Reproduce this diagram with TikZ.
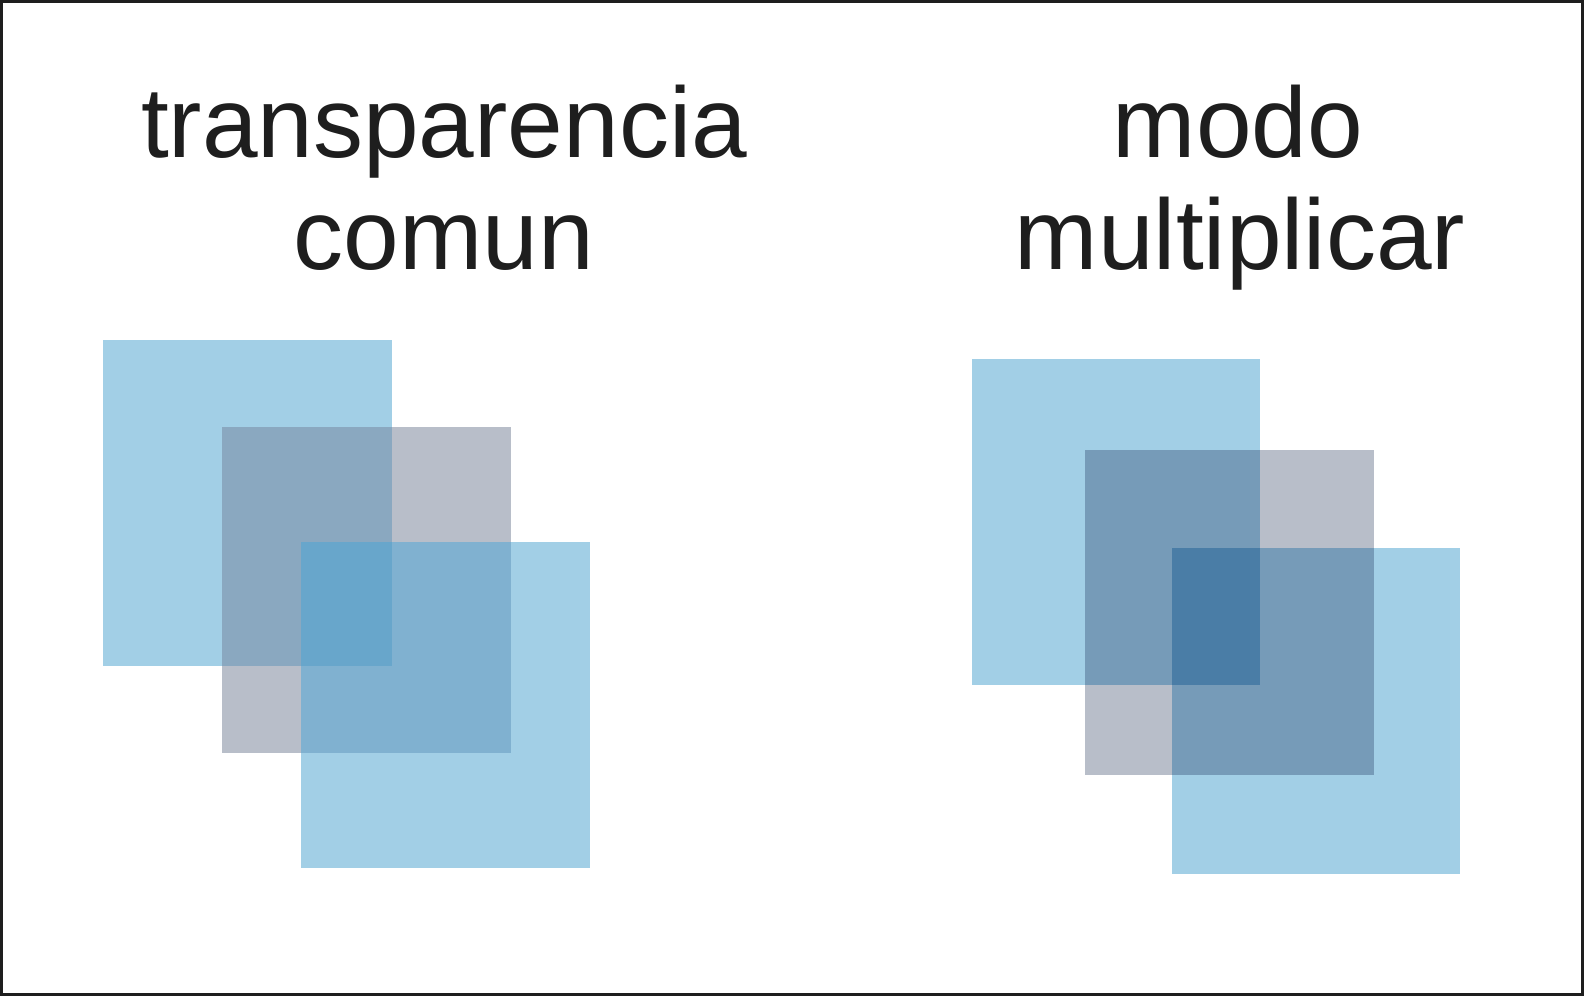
\documentclass[tikz,border=0pt]{standalone}
\usepackage{fontspec}
\setmainfont{Liberation Sans}
\definecolor{sqblue}{HTML}{A2CFE6}
\definecolor{sqgray}{HTML}{B8BEC9}
\definecolor{lbg}{HTML}{8AA8C0}
\definecolor{lgb}{HTML}{80B1D0}
\definecolor{ltri}{HTML}{68A6CB}
\definecolor{rmix}{HTML}{769BB8}
\definecolor{rtri}{HTML}{4A7DA6}
\definecolor{ink}{HTML}{1E1E1E}
\tikzset{
  title/.style={anchor=base,inner sep=0pt,text=ink,font=\fontsize{50}{54}\selectfont}
}
\begin{document}
\begin{tikzpicture}[x=0.5pt,y=-0.5pt]
\useasboundingbox (0,0) rectangle (1584,996);
\fill[white] (0,0) rectangle (1584,996);
\draw[ink,line width=1.4pt] (1.5,1.5) rectangle (1582.5,994.5);
% titles
\node[title] (t1) at (444,157) {transparencia};
\node[title] (t2) at (444,269) {comun};
\node[title] (t3) at (1238,157) {modo};
\node[title] (t4) at (1240,269) {multiplicar};
% left: common transparency
\fill[sqblue] (103,340) rectangle (392,666);
\fill[sqgray] (222,427) rectangle (511,753);
\fill[sqblue] (301,542) rectangle (590,868);
\fill[lbg] (222,427) rectangle (392,666);
\fill[lgb] (301,542) rectangle (511,753);
\fill[ltri] (301,542) rectangle (392,666);
% right: multiply mode
\fill[sqblue] (972,359) rectangle (1260,685);
\fill[sqgray] (1085,450) rectangle (1374,775);
\fill[sqblue] (1172,548) rectangle (1460,874);
\fill[rmix] (1085,450) rectangle (1260,685);
\fill[rmix] (1172,548) rectangle (1374,775);
\fill[rtri] (1172,548) rectangle (1260,685);
\end{tikzpicture}
\end{document}
